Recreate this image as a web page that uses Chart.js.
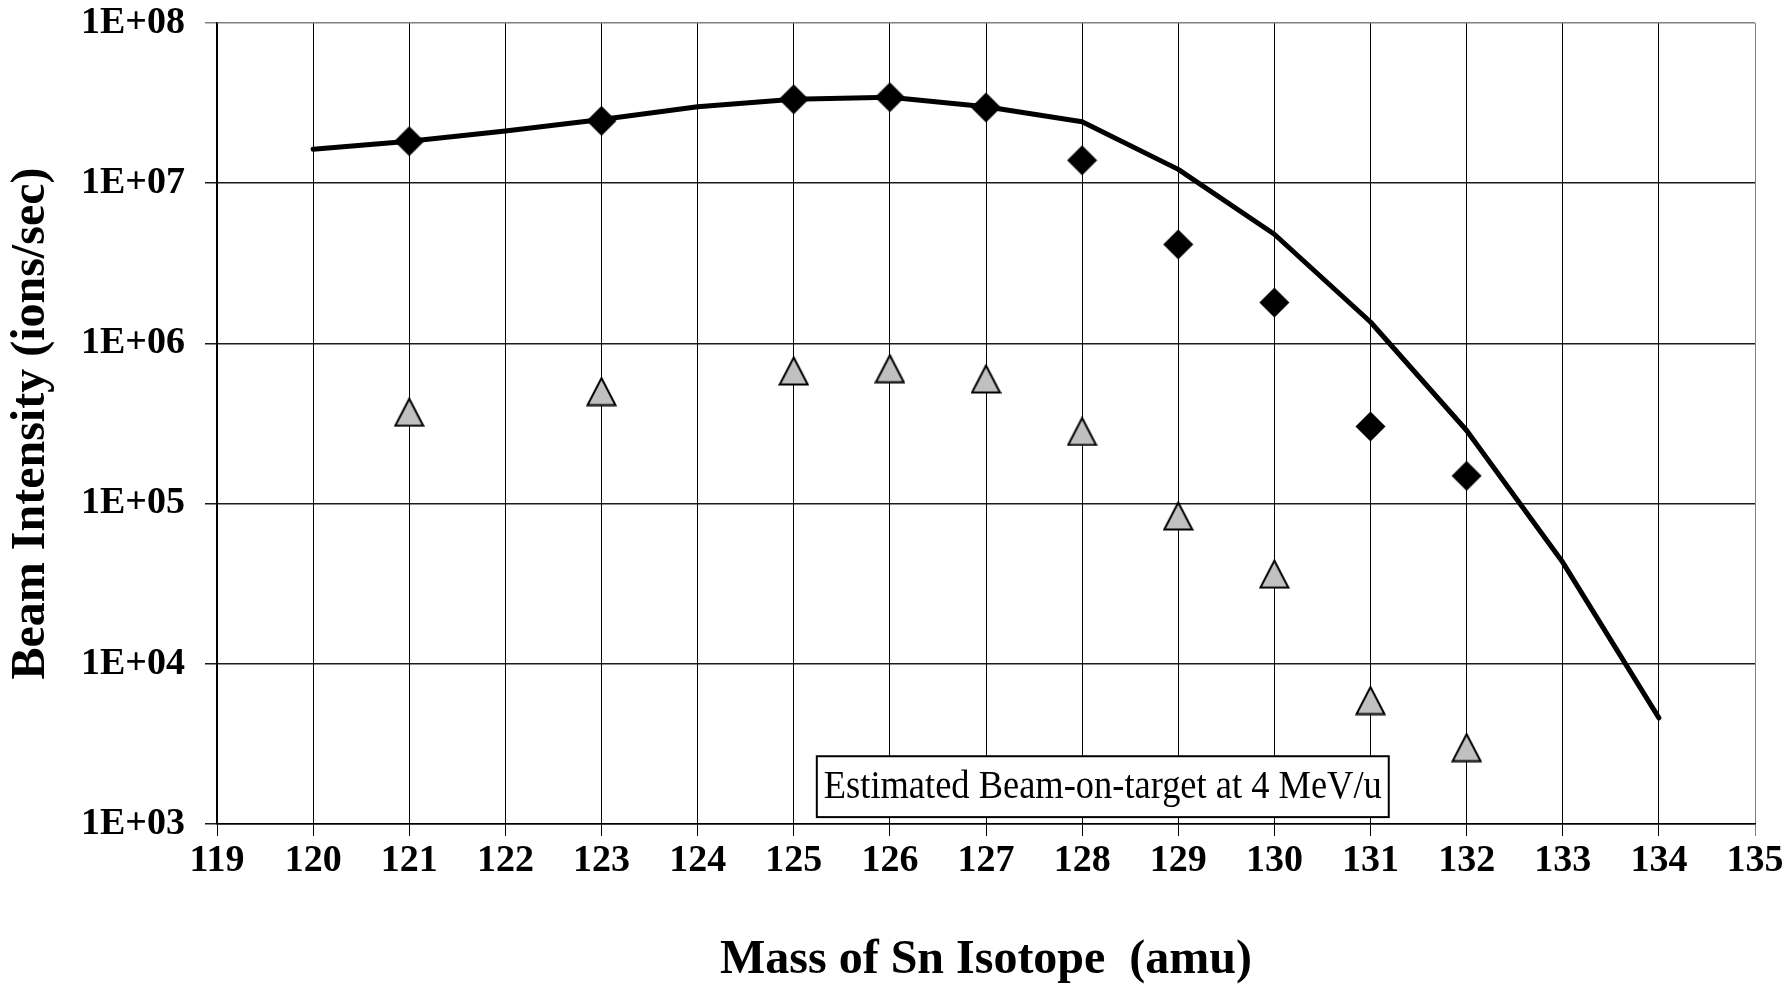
<!DOCTYPE html>
<html>
<head>
<meta charset="utf-8">
<script src="https://cdn.jsdelivr.net/npm/chart.js@4.4.1/dist/chart.umd.min.js"></script>
<style>
  html, body { margin: 0; padding: 0; background: #ffffff; }
  #wrap { width: 1790px; height: 985px; position: relative; }
</style>
</head>
<body>
<div id="wrap"><canvas id="c" width="1790" height="985"></canvas></div>
<script>
// ---- Data ----
const lineMasses = [120, 121, 122, 123, 124, 125, 126, 127, 128, 129, 130, 131, 132, 133, 134];
const lineValues = [1.63e7, 1.83e7, 2.12e7, 2.5e7, 3.0e7, 3.34e7, 3.44e7, 3.0e7, 2.42e7, 1.22e7, 4.8e6, 1.36e6, 2.86e5, 4.3e4, 4.6e3];

const diamondMasses = [121, 123, 125, 126, 127, 128, 129, 130, 131, 132];
const diamondValues = [1.83e7, 2.45e7, 3.34e7, 3.44e7, 2.97e7, 1.39e7, 4.15e6, 1.8e6, 3.03e5, 1.49e5];

const triangleMasses = [121, 123, 125, 126, 127, 128, 129, 130, 131, 132];
const triangleValues = [3.72e5, 5.0e5, 6.73e5, 6.95e5, 6.0e5, 2.82e5, 8.37e4, 3.63e4, 5.9e3, 3.0e3];

const xMin = 119, xMax = 135;
const yTickValues = [1e3, 1e4, 1e5, 1e6, 1e7, 1e8];
const yTickLabels = ['1E+03', '1E+04', '1E+05', '1E+06', '1E+07', '1E+08'];

const xTitle = 'Mass of Sn Isotope  (amu)';
const yTitle = 'Beam Intensity (ions/sec)';
const noteText = 'Estimated Beam-on-target at 4 MeV/u';

// ---- Marker images ----
function makeDiamond() {
  const c = document.createElement('canvas');
  c.width = 31; c.height = 31;
  const g = c.getContext('2d');
  g.beginPath();
  g.moveTo(15.5, 0.5); g.lineTo(30.5, 15.5); g.lineTo(15.5, 30.5); g.lineTo(0.5, 15.5);
  g.closePath();
  g.fillStyle = '#000'; g.fill();
  return c;
}
function makeTriangle() {
  const c = document.createElement('canvas');
  c.width = 31; c.height = 30;
  const g = c.getContext('2d');
  g.beginPath();
  g.moveTo(15.5, 1.5); g.lineTo(29.5, 28.5); g.lineTo(1.5, 28.5);
  g.closePath();
  g.fillStyle = '#c0c0c0'; g.fill();
  g.lineWidth = 2; g.strokeStyle = '#000'; g.stroke();
  return c;
}

const serif = "'Liberation Serif', 'Times New Roman', Times, serif";
Chart.defaults.font.family = serif;
Chart.defaults.color = '#000';

const toPts = (xs, ys) => xs.map((x, i) => ({ x: x, y: ys[i] }));

const notePlugin = {
  id: 'note',
  afterDraw(chart) {
    const { ctx, scales } = chart;
    const x = scales.x, y = scales.y;
    const left = x.getPixelForValue(125.24);
    const right = x.getPixelForValue(131.19);
    const top = y.getPixelForValue(Math.pow(10, 3.423));
    const bottom = y.getPixelForValue(Math.pow(10, 3.043));
    ctx.save();
    ctx.fillStyle = '#fff';
    ctx.fillRect(left, top, right - left, bottom - top);
    ctx.lineWidth = 2;
    ctx.strokeStyle = '#000';
    ctx.strokeRect(left, top, right - left, bottom - top);
    ctx.font = '41px ' + serif;
    ctx.fillStyle = '#000';
    ctx.textAlign = 'center';
    ctx.textBaseline = 'middle';
    const cx = (left + right) / 2, cy = (top + bottom) / 2 + 1;
    const natural = ctx.measureText(noteText).width;
    const target = (right - left) - 14;
    const sx = Math.min(1, target / natural);
    ctx.translate(cx, cy);
    ctx.scale(sx, 1);
    ctx.fillText(noteText, 0, 0);
    ctx.restore();
  }
};

new Chart(document.getElementById('c'), {
  type: 'line',
  data: {
    datasets: [
      {
        label: 'line',
        data: toPts(lineMasses, lineValues),
        borderColor: '#000',
        borderWidth: 5,
        pointRadius: 0,
        fill: false,
        tension: 0,
        borderCapStyle: 'round',
        borderJoinStyle: 'round',
        order: 3
      },
      {
        label: 'diamonds',
        data: toPts(diamondMasses, diamondValues),
        showLine: false,
        pointStyle: makeDiamond(),
        pointRadius: 15,
        order: 2
      },
      {
        label: 'triangles',
        data: toPts(triangleMasses, triangleValues),
        showLine: false,
        pointStyle: makeTriangle(),
        pointRadius: 15,
        order: 1
      }
    ]
  },
  options: {
    responsive: false,
    animation: false,
    devicePixelRatio: 1,
    layout: { padding: { top: 23, right: 35, left: 0, bottom: 0 } },
    plugins: {
      legend: { display: false },
      tooltip: { enabled: false }
    },
    scales: {
      x: {
        type: 'linear',
        min: xMin,
        max: xMax,
        ticks: {
          stepSize: 1,
          autoSkip: false,
          maxRotation: 0,
          padding: 2,
          font: { size: 38, weight: 'bold' },
          color: '#000'
        },
        grid: {
          color: (c) => (c.tick && c.tick.value === xMax) ? '#808080' : '#000',
          lineWidth: 1,
          tickLength: 12,
          drawTicks: true
        },
        border: { display: true, color: '#000', width: 1.5 },
        title: {
          display: true,
          text: xTitle,
          font: { size: 48, weight: 'bold', lineHeight: 1 },
          color: '#000',
          padding: { top: 0, bottom: 0 }
        },
        afterFit(s) { s.height = 161; }
      },
      y: {
        type: 'logarithmic',
        min: yTickValues[0],
        max: yTickValues[yTickValues.length - 1],
        afterBuildTicks(s) { s.ticks = yTickValues.map(v => ({ value: v })); },
        ticks: {
          padding: 20,
          font: { size: 38, weight: 'bold' },
          color: '#000',
          callback: (v) => {
            const i = yTickValues.indexOf(v);
            return i >= 0 ? yTickLabels[i] : '';
          }
        },
        grid: {
          color: (c) => (c.tick && c.tick.value === yTickValues[yTickValues.length - 1]) ? '#808080' : '#1a1a1a',
          lineWidth: 1.5,
          tickLength: 12,
          drawTicks: true
        },
        border: { display: true, color: '#000', width: 1.5 },
        title: {
          display: true,
          text: yTitle,
          font: { size: 48, weight: 'bold', lineHeight: 1 },
          color: '#000',
          padding: { top: 8, bottom: 0 }
        },
        afterFit(s) { s.width = 217; s.paddingTop = 0; s.paddingBottom = 0; }
      }
    }
  },
  plugins: [notePlugin]
});
</script>
</body>
</html>
